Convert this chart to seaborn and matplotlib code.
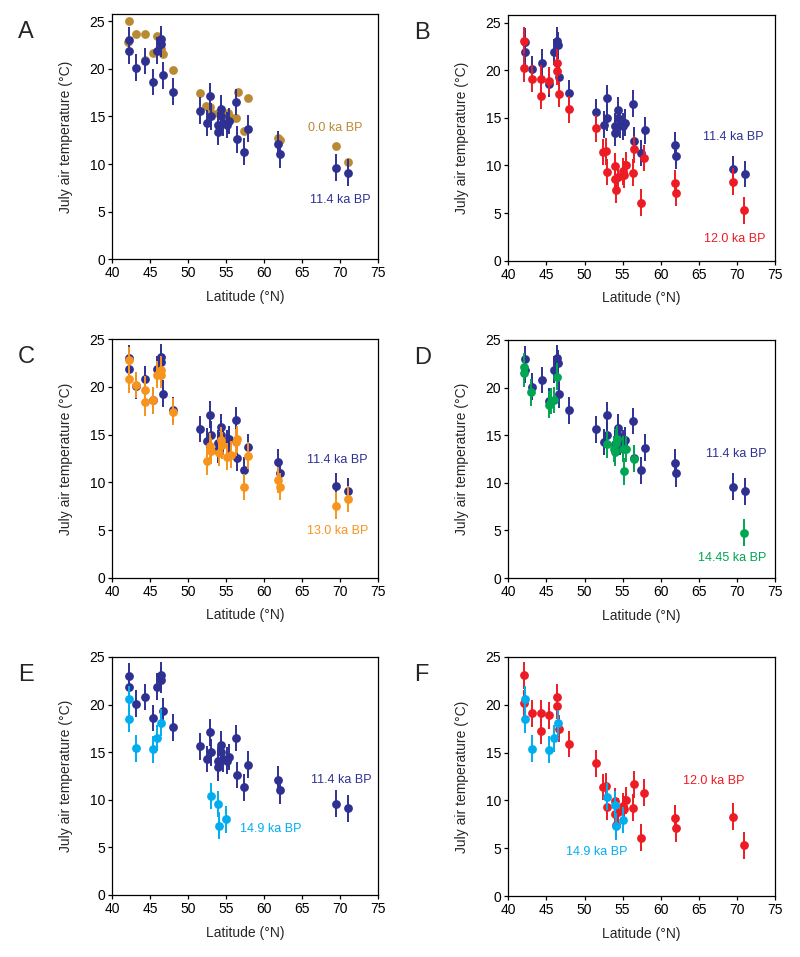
import matplotlib
matplotlib.use("Agg")
import matplotlib.pyplot as plt
import seaborn as sns

# ------------------------------------------
# Data
# ------------------------------------------
# 11.4 ka BP (shown in every panel)
lat_114 = [42.2, 42.2, 43.15, 44.4, 45.4, 45.95, 46.4, 46.5, 46.7, 48.0,
           51.55, 52.5, 52.9, 53.0, 54.0, 54.0, 54.35, 54.35, 54.65, 55.1,
           55.35, 56.3, 56.5, 57.4, 57.9, 61.9, 62.05, 69.5, 71.0]
t_114 = [23.0, 21.9, 20.1, 20.8, 18.6, 21.9, 23.1, 22.6, 19.3, 17.6,
         15.6, 14.3, 17.1, 15.0, 14.1, 13.4, 15.8, 15.0, 14.3, 14.1,
         14.5, 16.5, 12.6, 11.3, 13.7, 12.1, 11.0, 9.6, 9.1]

# 0.0 ka BP (modern, no error bars)
lat_000 = [42.2, 42.1, 43.15, 44.4, 44.4, 45.4, 45.9, 46.2, 46.5, 46.7,
           48.0, 51.55, 52.4, 52.85, 53.0, 53.9, 54.6, 55.3, 55.75, 56.3,
           56.55, 57.4, 57.9, 61.9, 62.1, 69.5, 71.0]
t_000 = [25.0, 22.8, 23.6, 23.6, 20.9, 21.7, 23.4, 22.0, 22.1, 21.5,
         19.9, 17.5, 16.1, 16.0, 15.3, 15.3, 15.1, 15.4, 14.8, 14.8,
         17.55, 13.5, 16.9, 12.7, 12.5, 11.9, 10.25]

# 12.0 ka BP
lat_120 = [42.1, 42.1, 43.06, 44.3, 44.3, 45.4, 46.4, 46.4, 46.7, 47.96,
           51.5, 52.4, 52.8, 52.95, 54.0, 54.0, 54.1, 54.35, 55.0, 55.2,
           55.5, 56.3, 56.45, 57.4, 57.85, 61.9, 62.0, 69.45, 70.9]
t_120 = [23.1, 20.2, 19.1, 19.1, 17.3, 18.9, 20.8, 19.9, 17.5, 15.9,
         13.9, 11.4, 11.5, 9.3, 9.9, 8.6, 7.45, 8.8, 9.4, 9.05,
         10.0, 9.25, 11.7, 6.1, 10.8, 8.15, 7.1, 8.3, 5.3]

# 13.0 ka BP
lat_130 = [42.2, 42.3, 43.2, 44.4, 44.4, 45.4, 45.95, 46.4, 46.5, 48.0,
           52.5, 52.9, 53.0, 54.1, 54.35, 54.5, 55.1, 55.7, 56.3, 56.5,
           57.4, 57.9, 61.9, 62.05, 69.5, 71.0]
t_130 = [22.8, 20.8, 20.2, 19.7, 18.4, 18.6, 21.3, 21.8, 21.3, 17.4,
         12.2, 13.8, 13.3, 13.1, 14.4, 13.9, 12.7, 12.9, 14.2, 14.5,
         9.5, 12.8, 10.25, 9.55, 7.55, 8.25]

# 14.45 ka BP
lat_1445 = [42.1, 42.1, 42.97, 45.3, 45.6, 45.95, 46.4, 52.95, 53.9, 54.0,
            54.1, 54.3, 55.0, 55.2, 55.5, 56.45, 70.9]
t_1445 = [22.2, 21.5, 19.5, 18.2, 18.6, 18.7, 21.15, 14.05, 13.55, 13.2,
          14.2, 14.6, 13.55, 11.2, 13.55, 12.55, 4.75]

# 14.9 ka BP
lat_149 = [42.2, 42.2, 43.1, 45.4, 45.95, 46.5, 53.0, 54.0, 54.1, 55.0]
t_149 = [20.6, 18.5, 15.4, 15.3, 16.5, 18.1, 10.4, 9.55, 7.3, 7.95]

err = 1.4  # typical error bar half-length (°C)

# ------------------------------------------
# Colours
# ------------------------------------------
c_114 = "#2E3192"
c_000 = "#BA8A33"
c_120 = "#ED1C24"
c_130 = "#F7941D"
c_1445 = "#00A651"
c_149 = "#00AEEF"

# ------------------------------------------
# Style
# ------------------------------------------
sns.set_style("ticks")
plt.rcParams["font.family"] = ["Liberation Sans", "DejaVu Sans"]
plt.rcParams["axes.linewidth"] = 0.9
plt.rcParams["xtick.major.size"] = 3
plt.rcParams["ytick.major.size"] = 3
plt.rcParams["xtick.major.width"] = 0.9
plt.rcParams["ytick.major.width"] = 0.9
plt.rcParams["xtick.labelsize"] = 10
plt.rcParams["ytick.labelsize"] = 10
plt.rcParams["xtick.color"] = "black"
plt.rcParams["ytick.color"] = "black"
plt.rcParams["axes.edgecolor"] = "black"

W, H = 800, 957
fig = plt.figure(figsize=(W / 100, H / 100), dpi=100)


def px_axes(left, top, right, bottom):
    return fig.add_axes([left / W, 1 - bottom / H, (right - left) / W, (bottom - top) / H])


def draw_series(ax, lat, temp, color, layer, bars=True):
    if bars:
        ax.errorbar(lat, temp, yerr=err, fmt="none", ecolor=color,
                    elinewidth=1.4, capsize=0, zorder=layer)
    sns.scatterplot(x=lat, y=temp, color=color, s=40, linewidth=0,
                    ax=ax, zorder=layer + 0.5)


def style_axes(ax, ytop):
    ax.set_xlim(40, 75)
    ax.set_ylim(0, ytop)
    ax.set_xticks(range(40, 80, 5))
    ax.set_yticks(range(0, 30, 5))
    ax.set_xlabel("Latitude (°N)", fontsize=10, labelpad=7)
    ax.set_ylabel("July air temperature (°C)", fontsize=10, labelpad=12)
    for side in ["top", "right", "left", "bottom"]:
        ax.spines[side].set_visible(True)
    ax.tick_params(top=False, right=False, pad=2)


panels = [
    ("A", (112, 14, 378, 259.3), 25.74),
    ("B", (508.3, 15, 775, 260.7), 25.8),
    ("C", (112, 339.3, 378, 577.7), 25),
    ("D", (508.3, 340, 775, 578), 25),
    ("E", (112, 657, 378, 895), 25),
    ("F", (508.3, 657, 775, 896), 25),
]

axes = {}
for letter, box, ytop in panels:
    ax = px_axes(*box)
    style_axes(ax, ytop)
    axes[letter] = ax
    fig.text((box[0] - 94) / W, 1 - (box[1] + 18) / H, letter,
             fontsize=17, ha="left", va="center")

# A: 0.0 vs 11.4 ka BP
ax = axes["A"]
draw_series(ax, lat_000, t_000, c_000, 2, bars=False)
draw_series(ax, lat_114, t_114, c_114, 3)
ax.text(69.4, 13.8, "0.0 ka BP", color=c_000, fontsize=9, ha="center", va="center")
ax.text(70.1, 6.2, "11.4 ka BP", color=c_114, fontsize=9, ha="center", va="center")

# B: 12.0 vs 11.4 ka BP
ax = axes["B"]
draw_series(ax, lat_114, t_114, c_114, 2)
draw_series(ax, lat_120, t_120, c_120, 3)
ax.text(69.5, 13.0, "11.4 ka BP", color=c_114, fontsize=9, ha="center", va="center")
ax.text(69.7, 2.25, "12.0 ka BP", color=c_120, fontsize=9, ha="center", va="center")

# C: 13.0 vs 11.4 ka BP
ax = axes["C"]
draw_series(ax, lat_114, t_114, c_114, 2)
draw_series(ax, lat_130, t_130, c_130, 3)
ax.text(69.7, 12.35, "11.4 ka BP", color=c_114, fontsize=9, ha="center", va="center")
ax.text(69.7, 4.9, "13.0 ka BP", color=c_130, fontsize=9, ha="center", va="center")

# D: 14.45 vs 11.4 ka BP
ax = axes["D"]
draw_series(ax, lat_114, t_114, c_114, 2)
draw_series(ax, lat_1445, t_1445, c_1445, 3)
ax.text(69.9, 13.0, "11.4 ka BP", color=c_114, fontsize=9, ha="center", va="center")
ax.text(69.4, 2.07, "14.45 ka BP", color=c_1445, fontsize=9, ha="center", va="center")

# E: 14.9 vs 11.4 ka BP
ax = axes["E"]
draw_series(ax, lat_114, t_114, c_114, 2)
draw_series(ax, lat_149, t_149, c_149, 3)
ax.text(70.2, 12.1, "11.4 ka BP", color=c_114, fontsize=9, ha="center", va="center")
ax.text(60.95, 6.9, "14.9 ka BP", color=c_149, fontsize=9, ha="center", va="center")

# F: 14.9 vs 12.0 ka BP
ax = axes["F"]
draw_series(ax, lat_120, t_120, c_120, 2)
draw_series(ax, lat_149, t_149, c_149, 3)
ax.text(67.0, 12.0, "12.0 ka BP", color=c_120, fontsize=9, ha="center", va="center")
ax.text(51.6, 4.6, "14.9 ka BP", color=c_149, fontsize=9, ha="center", va="center")

fig.savefig("out.png", dpi=100)
